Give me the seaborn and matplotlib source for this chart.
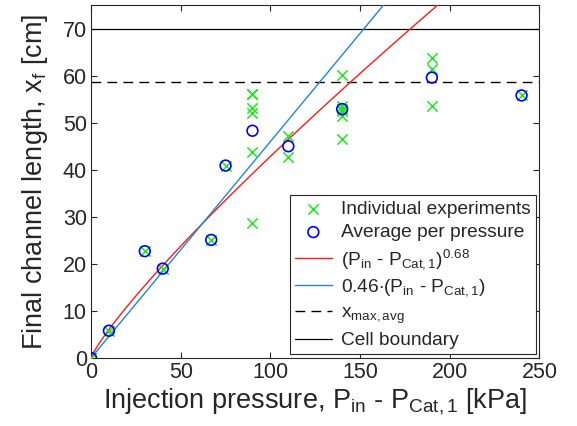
import numpy as np
import pandas as pd
import matplotlib
matplotlib.use("Agg")
import matplotlib.pyplot as plt
import seaborn as sns

# Injection pressure (kPa) and final channel length (cm) of each experiment
exp_pressure = [0, 10, 30, 40, 67, 75,
                90, 90, 90, 90, 90, 90,
                110, 110,
                140, 140, 140, 140, 140, 140,
                190, 190, 190,
                240]
exp_length = [0.0, 5.8, 22.7, 19.0, 25.1, 40.9,
              56.2, 56.2, 53.1, 52.1, 43.7, 28.6,
              47.2, 42.7,
              60.2, 53.6, 53.0, 52.4, 51.4, 46.6,
              63.8, 61.5, 53.6,
              55.8]

# Mean channel length for every pressure level
avg_pressure = [0, 10, 30, 40, 67, 75, 90, 110, 140, 190, 240]
avg_length = [0.0, 5.8, 22.7, 19.0, 25.1, 40.9, 48.3, 45.0, 52.9, 59.6, 55.8]

# Fitted trends
power_coef, power_exp = 0.855, 0.85
lin_coef = 0.46

x_max_avg = 58.7
cell_boundary = 70

x_ticks = [0, 50, 100, 150, 200, 250]
y_ticks = [0, 10, 20, 30, 40, 50, 60, 70]

sns.set_theme(style="white")
plt.rcParams["font.family"] = ["Liberation Sans", "DejaVu Sans"]
plt.rcParams["mathtext.fontset"] = "custom"
plt.rcParams["mathtext.rm"] = "Liberation Sans"
plt.rcParams["mathtext.it"] = "Liberation Sans:italic"

fig = plt.figure(figsize=(5.77, 4.26), dpi=100)
ax = fig.add_axes([0.1577, 0.1596, 0.7773, 0.8284])

p_fit = np.linspace(0, 250, 500)
fit_df = pd.DataFrame({
    "p": p_fit,
    "power": power_coef * p_fit ** power_exp,
    "linear": lin_coef * p_fit,
})

exp_df = pd.DataFrame({"p": exp_pressure, "x": exp_length})
avg_df = pd.DataFrame({"p": avg_pressure, "x": avg_length})

green = "#1ee81e"
blue_marker = "#0000ff"
red = "#ff1a1a"
blue_line = "#1f87d0"

sns.scatterplot(data=exp_df, x="p", y="x", ax=ax, marker="x", s=55,
                color=green, linewidth=1.1, zorder=4,
                label="Individual experiments")
sns.scatterplot(data=avg_df, x="p", y="x", ax=ax, marker="o", s=60,
                facecolor="none", edgecolor=blue_marker, linewidth=1.2,
                zorder=5, label="Average per pressure")
sns.lineplot(data=fit_df, x="p", y="power", ax=ax, color=red, lw=1.0,
             zorder=3,
             label=r"(P$_{\mathrm{in}}$ - P$_{\mathrm{Cat,1}}$)$^{0.68}$")
sns.lineplot(data=fit_df, x="p", y="linear", ax=ax, color=blue_line, lw=1.0,
             zorder=3,
             label=r"0.46$\cdot$(P$_{\mathrm{in}}$ - P$_{\mathrm{Cat,1}}$)")
ax.axhline(x_max_avg, color="black", lw=1.0, ls=(0, (7, 4.5)), zorder=2,
           label=r"x$_{\mathrm{max,avg}}$")
ax.axhline(cell_boundary, color="black", lw=0.9, zorder=2,
           label="Cell boundary")

ax.set_xlim(0, 250)
ax.set_ylim(0, 75)
ax.set_xticks(x_ticks)
ax.set_yticks(y_ticks)

ax.set_xlabel(r"Injection pressure, P$_{\mathrm{in}}$ - P$_{\mathrm{Cat,1}}$ [kPa]",
              fontsize=19.5, color="#262626", labelpad=2)
ax.set_ylabel(r"Final channel length, x$_{\mathrm{f}}$ [cm]",
              fontsize=19.5, color="#262626", labelpad=9)

ax.tick_params(direction="in", length=4, width=0.8, colors="#262626",
               labelsize=15.5, top=True, right=True, bottom=True, left=True)
ax.tick_params(axis="x", pad=3)
ax.tick_params(axis="y", pad=3)
for side in ax.spines.values():
    side.set_color("#262626")
    side.set_linewidth(0.8)

leg = ax.legend(loc="lower right", fontsize=13.8, frameon=True, fancybox=False,
                edgecolor="#262626", framealpha=1, borderpad=0.25,
                labelspacing=0.32, handlelength=1.9, handletextpad=0.5,
                borderaxespad=0.2)
leg.get_frame().set_linewidth(0.8)
for t in leg.get_texts():
    t.set_color("#262626")

fig.savefig("out.png", dpi=100)
